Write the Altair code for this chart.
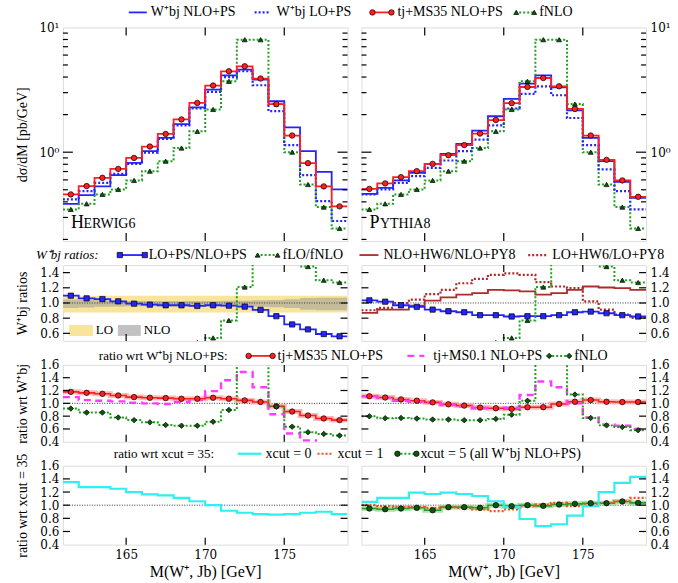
import altair as alt
import pandas as pd

# ---------------- data ----------------
bin_lo = [161, 162, 163, 164, 165, 166, 167, 168, 169, 170, 171, 172, 173, 174, 175, 176, 177, 178]
bin_end = 179
bin_mid = [161.5, 162.5, 163.5, 164.5, 165.5, 166.5, 167.5, 168.5, 169.5,
           170.5, 171.5, 172.5, 173.5, 174.5, 175.5, 176.5, 177.5, 178.5]
x_tick_vals = [165, 170, 175]

# top panels: dsigma/dM [pb/GeV]
hw_nlo = [0.386, 0.453, 0.532, 0.655, 0.821, 1.02, 1.30, 1.68, 2.29, 3.17, 4.13, 4.59, 3.82, 2.56, 1.58, 1.02, 0.696, 0.503]
hw_lo = [0.418, 0.488, 0.568, 0.670, 0.806, 0.99, 1.28, 1.64, 2.24, 3.04, 4.00, 4.45, 3.44, 2.13, 1.14, 0.655, 0.406, 0.281]
hw_tj = [0.459, 0.535, 0.623, 0.735, 0.900, 1.11, 1.40, 1.83, 2.48, 3.42, 4.45, 4.88, 3.89, 2.43, 1.36, 0.817, 0.532, 0.368]
py_nlo = [0.464, 0.518, 0.594, 0.683, 0.806, 0.969, 1.165, 1.49, 1.94, 2.67, 3.54, 4.13, 3.31, 2.16, 1.30, 0.847, 0.579, 0.431]
py_lo = [0.459, 0.503, 0.568, 0.643, 0.749, 0.858, 1.02, 1.26, 1.64, 2.24, 2.93, 3.37, 2.86, 1.88, 1.14, 0.727, 0.488, 0.348]
py_tj = [0.508, 0.562, 0.631, 0.705, 0.806, 0.946, 1.14, 1.41, 1.81, 2.47, 3.33, 3.93, 3.37, 2.22, 1.36, 0.868, 0.594, 0.439]
fnlo = [0.348, 0.386, 0.459, 0.503, 0.594, 0.705, 0.847, 1.08, 1.47, 2.20, 3.70, 7.97, 7.97, 2.43, 1.00, 0.551, 0.363, 0.245]

# W+bj ratios
hw_lo_nlo = [1.096, 1.061, 1.052, 1.022, 0.991, 0.978, 0.970, 0.970, 0.961, 0.970, 0.965, 0.952, 0.909, 0.826, 0.717, 0.652, 0.591, 0.561]
py_lo_nlo = [1.035, 1.017, 0.970, 0.948, 0.913, 0.891, 0.878, 0.839, 0.839, 0.822, 0.826, 0.826, 0.839, 0.878, 0.887, 0.865, 0.839, 0.822]
flo_fnlo = [0.30, 0.32, 0.34, 0.36, 0.38, 0.40, 0.42, 0.45, 0.48, 0.54, 0.77, 1.21, 1.90, 2.30, 1.80, 1.48, 1.30, 1.27]
hw_py_nlo = [0.870, 0.913, 0.913, 0.965, 1.030, 1.074, 1.109, 1.130, 1.174, 1.165, 1.152, 1.109, 1.130, 1.174, 1.217, 1.204, 1.196, 1.174]
hw_py_lo = [0.904, 0.935, 1.000, 1.043, 1.117, 1.174, 1.260, 1.317, 1.370, 1.390, 1.370, 1.274, 1.217, 1.196, 1.022, 0.913, 0.848, 0.804]
band_lo_lo = [0.875, 0.875, 0.875, 0.875, 0.875, 0.875, 0.875, 0.875, 0.875, 0.875, 0.875, 0.875, 0.875, 0.875, 0.875, 0.875, 0.875, 0.875]
band_lo_hi = [1.095, 1.095, 1.095, 1.095, 1.095, 1.095, 1.095, 1.095, 1.095, 1.095, 1.095, 1.095, 1.095, 1.095, 1.095, 1.095, 1.095, 1.095]
band_nlo_lo = [0.935, 0.94, 0.95, 0.955, 0.958, 0.958, 0.958, 0.958, 0.958, 0.958, 0.955, 0.955, 0.95, 0.945, 0.935, 0.91, 0.905, 0.905]
band_nlo_hi = [1.045, 1.04, 1.035, 1.03, 1.025, 1.025, 1.025, 1.025, 1.025, 1.025, 1.028, 1.03, 1.035, 1.04, 1.05, 1.065, 1.07, 1.07]

# ratio wrt W+bj NLO+PS
hw_tj_r = [1.179, 1.164, 1.149, 1.123, 1.097, 1.087, 1.082, 1.072, 1.072, 1.087, 1.072, 1.046, 1.021, 0.954, 0.872, 0.810, 0.764, 0.738]
hw_ms01_r = [1.097, 1.05, 1.04, 1.03, 1.01, 1.00, 0.99, 1.02, 1.05, 1.19, 1.36, 1.49, 1.25, 0.83, 0.53, 0.42, 0.36, 0.33]
hw_fnlo_r = [0.918, 0.856, 0.856, 0.779, 0.738, 0.703, 0.662, 0.651, 0.651, 0.713, 0.897, 1.75, 2.05, 0.949, 0.636, 0.549, 0.523, 0.497]
py_tj_r = [1.111, 1.091, 1.061, 1.041, 1.015, 0.985, 0.965, 0.934, 0.924, 0.914, 0.939, 0.939, 0.990, 1.025, 1.051, 1.025, 1.020, 1.020]
py_ms01_r = [1.11, 1.086, 1.04, 1.025, 1.01, 0.975, 0.95, 0.924, 0.914, 0.93, 1.13, 1.34, 1.25, 1.00, 0.78, 0.67, 0.65, 0.60]
py_fnlo_r = [0.797, 0.767, 0.772, 0.762, 0.747, 0.747, 0.737, 0.737, 0.757, 0.823, 1.04, 1.95, 2.30, 1.137, 0.772, 0.656, 0.630, 0.580]

# ratio wrt x_cut = 35
hw_xc0 = [1.35, 1.275, 1.275, 1.25, 1.20, 1.165, 1.15, 1.11, 1.06, 1.00, 0.915, 0.885, 0.865, 0.855, 0.865, 0.885, 0.90, 0.865]
py_xc0 = [1.05, 1.11, 1.11, 1.19, 1.17, 1.19, 1.17, 1.14, 1.06, 0.97, 0.79, 0.68, 0.71, 0.84, 0.985, 1.20, 1.34, 1.43]
py_xc1 = [1.005, 0.985, 0.975, 0.97, 0.96, 0.97, 0.96, 0.934, 0.909, 0.934, 0.985, 1.01, 1.035, 0.985, 1.01, 1.035, 1.06, 1.11]
py_xc5 = [0.949, 0.939, 0.949, 0.96, 0.924, 0.97, 0.97, 0.96, 1.00, 0.985, 1.00, 0.99, 1.01, 1.02, 1.03, 1.03, 1.056, 1.035]

log_minor = [0.2, 0.3, 0.4, 0.5, 0.6, 0.7, 0.8, 0.9, 2, 3, 4, 5, 6, 7, 8, 9]
log_major = [1]
r1_ticks = [0.6, 0.8, 1.0, 1.2, 1.4]
r2_ticks = [0.6, 0.8, 1.0, 1.2, 1.4]
r_labels = [0.4, 0.6, 0.8, 1.0, 1.2, 1.4, 1.6]

# ---------------- styling ----------------
W = 285
H_TOP, H_R1, H_R2, H_R3 = 214, 76, 77, 79
SERIF = 'Liberation Serif'
NUMF = 'DejaVu Serif'
BLUE = '#2424ff'
RED = '#ff1f1f'
GREEN_L = '#22a022'
GREEN_M = '#0b5a0b'
DARKRED = '#b02a2a'
MAGENTA = '#ff3cff'
CYAN = '#2ef0f0'
ORED = '#ff4a1a'

XS = alt.Scale(domain=[161, 179], nice=False, zero=False)
YS_TOP = alt.Scale(type='log', domain=[0.194, 10], nice=False)
YS_R1 = alt.Scale(domain=[0.5, 1.5], nice=False, zero=False)
YS_R2 = alt.Scale(domain=[0.4, 1.6], nice=False, zero=False)

DUMMY = pd.DataFrame({'k': [0]})


class P:
    """panel context: scales and axes shared by every layer of one panel"""
    def __init__(self, ys, H, xa, ya):
        self.ys, self.H, self.xa, self.ya = ys, H, xa, ya

    def X(self, f):
        return alt.X(f, scale=XS, axis=self.xa)

    def Y(self, f):
        return alt.Y(f, scale=self.ys, axis=self.ya)


def steps_df(vals):
    return pd.DataFrame({'x': bin_lo + [bin_end], 'y': list(vals) + [vals[-1]]})


def step_line(p, vals, color, width=1.6, dash=None, opacity=1.0):
    kw = dict(interpolate='step-after', color=color, strokeWidth=width, clip=True, opacity=opacity)
    if dash:
        kw['strokeDash'] = dash
    return alt.Chart(steps_df(vals)).mark_line(**kw).encode(x=p.X('x:Q'), y=p.Y('y:Q'))


def points(p, vals, shape, fill, size=28):
    df = pd.DataFrame({'x': bin_mid, 'y': vals})
    return alt.Chart(df).mark_point(shape=shape, filled=True, fill=fill, stroke='black',
                                    strokeWidth=0.7, size=size, opacity=1, clip=True).encode(
        x=p.X('x:Q'), y=p.Y('y:Q'))


def band(p, lo, hi, color, opacity):
    df = pd.DataFrame({'x': bin_lo + [bin_end], 'y': list(lo) + [lo[-1]], 'hi': list(hi) + [hi[-1]]})
    return alt.Chart(df).mark_area(interpolate='step-after', color=color, opacity=opacity, clip=True).encode(
        x=p.X('x:Q'), y=p.Y('y:Q'), y2='hi:Q')


def one_line(p):
    return alt.Chart(pd.DataFrame({'y': [1.0]})).mark_rule(color='#333333', strokeDash=[1, 1.5], strokeWidth=1).encode(
        y=p.Y('y:Q'))


def yticks(p, vals, length):
    df = pd.DataFrame({'y': vals})
    out = []
    for x1, x2 in ((0, length), (W - length, W)):
        out.append(alt.Chart(df).mark_rule(color='black', strokeWidth=1.2).encode(
            y=p.Y('y:Q'), x=alt.value(x1), x2=alt.value(x2)))
    return out


def xticks(p, length=7):
    df = pd.DataFrame({'x': x_tick_vals})
    return [alt.Chart(df).mark_rule(color='black', strokeWidth=1.2).encode(
                x=p.X('x:Q'), y=alt.value(0), y2=alt.value(length)),
            alt.Chart(df).mark_rule(color='black', strokeWidth=1.2).encode(
                x=p.X('x:Q'), y=alt.value(p.H - length), y2=alt.value(p.H))]


def ltext(x, y, s, size=14, style='normal'):
    return alt.Chart(DUMMY).mark_text(text=s, align='left', baseline='middle', font=SERIF,
                                      fontSize=size, fontStyle=style, color='black').encode(
        x=alt.value(x), y=alt.value(y))


def lline(x1, x2, y, color, width=1.6, dash=None):
    kw = dict(color=color, strokeWidth=width)
    if dash:
        kw['strokeDash'] = dash
    return alt.Chart(DUMMY).mark_rule(**kw).encode(x=alt.value(x1), x2=alt.value(x2), y=alt.value(y))


def lpoint(x, y, shape, fill, size=28):
    return alt.Chart(DUMMY).mark_point(shape=shape, filled=True, fill=fill, stroke='black',
                                       strokeWidth=0.7, size=size, opacity=1).encode(
        x=alt.value(x), y=alt.value(y))


def lrect(x1, x2, y1, y2, color, opacity=1.0):
    return alt.Chart(DUMMY).mark_rect(color=color, opacity=opacity).encode(
        x=alt.value(x1), x2=alt.value(x2), y=alt.value(y1), y2=alt.value(y2))


AX_COMMON = dict(ticks=False, domain=False, grid=False, labelFont=NUMF, labelFontSize=12,
                 labelColor='black', labelPadding=4, minExtent=29, maxExtent=29)


def yaxis(orient, values, title=None, fmt=None, expr=None):
    kw = dict(AX_COMMON)
    kw.update(orient=orient, values=values)
    if fmt:
        kw['format'] = fmt
    if expr:
        kw['labelExpr'] = expr
    if title:
        kw.update(title=title, titleFont=SERIF, titleFontSize=14, titleFontWeight='normal',
                  titleColor='black', titlePadding=4)
    else:
        kw['title'] = None
    return alt.Axis(**kw)


XAXIS_BOTTOM = alt.Axis(orient='bottom', values=x_tick_vals, format='d', ticks=False, domain=False,
                        grid=False, labelFont=NUMF, labelFontSize=12, labelColor='black', labelPadding=5,
                        title='M(W⁺, Jb) [GeV]', titleFont=SERIF, titleFontSize=16,
                        titleFontWeight='normal', titleColor='black', titlePadding=3)

LOG_EXPR = "datum.value == 1 ? '10⁰' : '10¹'"

# ---------------- top panels ----------------
def top_panel(nlo, lo, tj, side, name_big, name_small, legend=False):
    ax = yaxis(side, [1, 10], title='dσ/dM [pb/GeV]' if side == 'left' else None, expr=LOG_EXPR)
    p = P(YS_TOP, H_TOP, None, ax)
    layers = [
        step_line(p, nlo, BLUE, width=1.8),
        step_line(p, fnlo, GREEN_L, width=2.0, dash=[2, 2]),
        step_line(p, lo, BLUE, width=2.2, dash=[2, 2]),
        step_line(p, tj, RED, width=1.8),
        points(p, fnlo, 'triangle-up', GREEN_M, size=24),
        points(p, tj, 'circle', RED, size=30),
    ]
    layers += yticks(p, log_minor, 5) + yticks(p, log_major, 10) + xticks(p, 8)
    layers += [ltext(8, 196, name_big, size=18), ltext(8 + name_small[1], 197, name_small[0], size=14)]
    if legend:
        y = -15
        layers += [
            lline(128 - 62, 146 - 62, y, BLUE, 1.8), ltext(150 - 62, y, 'W⁺bj NLO+PS'),
            lline(254 - 62, 270 - 62, y, BLUE, 2.2, [2, 2]), ltext(276 - 62, y, 'W⁺bj LO+PS'),
            lline(370 - 62, 393 - 62, y, RED, 1.8), lpoint(372 - 62, y, 'circle', RED, 30),
            lpoint(391 - 62, y, 'circle', RED, 30), ltext(397 - 62, y, 'tj+MS35 NLO+PS'),
            lline(515 - 62, 535 - 62, y, GREEN_L, 2.0, [2, 2]), lpoint(516 - 62, y, 'triangle-up', GREEN_M, 24),
            lpoint(534 - 62, y, 'triangle-up', GREEN_M, 24), ltext(539 - 62, y, 'fNLO'),
        ]
    return alt.layer(*layers).properties(width=W, height=H_TOP)


top_left = top_panel(hw_nlo, hw_lo, hw_tj, 'left', 'H', ('ERWIG6', 12.5), legend=True)
top_right = top_panel(py_nlo, py_lo, py_tj, 'right', 'P', ('YTHIA8', 10.5))

# ---------------- ratio 1 ----------------
p = P(YS_R1, H_R1, None, yaxis('left', r1_ticks, 'W⁺bj ratios', '.1f'))
r1_left_layers = [
    band(p, band_lo_lo, band_lo_hi, '#f8e49a', 1.0),
    band(p, band_nlo_lo, band_nlo_hi, '#9a9a9a', 0.55),
    one_line(p),
    step_line(p, hw_lo_nlo, BLUE, width=1.8),
    step_line(p, flo_fnlo, GREEN_L, width=2.0, dash=[2, 2]),
    points(p, flo_fnlo, 'triangle-up', GREEN_M, 24),
    points(p, hw_lo_nlo, 'square', BLUE, 28),
    lrect(6, 30, 60, 71, '#f8e49a'), ltext(33, 65.5, 'LO', 13),
    lrect(55, 78, 60, 71, '#9a9a9a', 0.6), ltext(81, 65.5, 'NLO', 13),
]
r1_left_layers += yticks(p, r1_ticks, 7) + xticks(p, 7)
y = -10
r1_left_layers += [
    ltext(35 - 62, y, 'W⁺bj ratios:', 13, 'italic'),
    lline(117 - 62, 146 - 62, y, BLUE, 1.8), lpoint(119 - 62, y, 'square', BLUE, 28),
    lpoint(144 - 62, y, 'square', BLUE, 28), ltext(148 - 62, y, 'LO+PS/NLO+PS'),
    lline(256 - 62, 278 - 62, y, GREEN_L, 2.0, [2, 2]), lpoint(257 - 62, y, 'triangle-up', GREEN_M, 24),
    lpoint(277 - 62, y, 'triangle-up', GREEN_M, 24), ltext(282 - 62, y, 'fLO/fNLO'),
    lline(359 - 62, 378 - 62, y, DARKRED, 1.8), ltext(383 - 62, y, 'NLO+HW6/NLO+PY8'),
    lline(528 - 62, 548 - 62, y, DARKRED, 2.2, [2, 2]), ltext(552 - 62, y, 'LO+HW6/LO+PY8'),
]
r1_left = alt.layer(*r1_left_layers).properties(width=W, height=H_R1)

p = P(YS_R1, H_R1, None, yaxis('right', r1_ticks, fmt='.1f'))
r1_right_layers = [
    one_line(p),
    step_line(p, hw_py_nlo, DARKRED, width=1.8),
    step_line(p, hw_py_lo, DARKRED, width=2.2, dash=[2, 2]),
    step_line(p, py_lo_nlo, BLUE, width=1.8),
    step_line(p, flo_fnlo, GREEN_L, width=2.0, dash=[2, 2]),
    points(p, flo_fnlo, 'triangle-up', GREEN_M, 24),
    points(p, py_lo_nlo, 'square', BLUE, 28),
]
r1_right_layers += yticks(p, r1_ticks, 7) + xticks(p, 7)
r1_right = alt.layer(*r1_right_layers).properties(width=W, height=H_R1)

# ---------------- ratio 2 ----------------
def r2_panel(tj, ms01, fr, side, legend=False):
    p = P(YS_R2, H_R2, None, yaxis(side, r_labels, 'ratio wrt W⁺bj' if side == 'left' else None, '.1f'))
    layers = [
        one_line(p),
        step_line(p, tj, '#ffa8a8', width=5, opacity=0.8),
        step_line(p, tj, RED, width=1.6),
        step_line(p, ms01, MAGENTA, width=2.4, dash=[7, 5]),
        step_line(p, fr, GREEN_L, width=2.0, dash=[2, 2]),
        points(p, tj, 'circle', RED, 30),
        points(p, fr, 'diamond', GREEN_M, 30),
    ]
    layers += yticks(p, r2_ticks, 7) + xticks(p, 7)
    if legend:
        y = -9
        layers += [
            ltext(98 - 62, y, 'ratio wrt W⁺bj NLO+PS:', 13),
            lline(246 - 62, 274 - 62, y, RED, 1.8), lpoint(248 - 62, y, 'circle', RED, 30),
            lpoint(272 - 62, y, 'circle', RED, 30), ltext(277 - 62, y, 'tj+MS35 NLO+PS'),
            lline(407 - 62, 424 - 62, y, MAGENTA, 2.4, [7, 5]), ltext(433 - 62, y, 'tj+MS0.1 NLO+PS'),
            lline(548 - 62, 570 - 62, y, GREEN_L, 2.0, [2, 2]), lpoint(549 - 62, y, 'diamond', GREEN_M, 30),
            lpoint(569 - 62, y, 'diamond', GREEN_M, 30), ltext(574 - 62, y, 'fNLO'),
        ]
    return alt.layer(*layers).properties(width=W, height=H_R2)


r2_left = r2_panel(hw_tj_r, hw_ms01_r, hw_fnlo_r, 'left', legend=True)
r2_right = r2_panel(py_tj_r, py_ms01_r, py_fnlo_r, 'right')

# ---------------- ratio 3 ----------------
p = P(YS_R2, H_R3, XAXIS_BOTTOM, yaxis('left', r_labels, 'ratio wrt xcut = 35', '.1f'))
r3_left_layers = [
    one_line(p),
    step_line(p, hw_xc0, CYAN, width=2.2),
]
r3_left_layers += yticks(p, r2_ticks, 7) + xticks(p, 7)
y = -12
r3_left_layers += [
    ltext(113 - 62, y, 'ratio wrt xcut = 35:', 13),
    lline(237 - 62, 261 - 62, y, CYAN, 2.2), ltext(265 - 62, y, 'xcut = 0'),
    lline(317 - 62, 333 - 62, y, ORED, 2.2, [2, 2]), ltext(337 - 62, y, 'xcut = 1'),
    lline(396 - 62, 417 - 62, y, GREEN_L, 2.0, [2, 2]), lpoint(397 - 62, y, 'circle', GREEN_M, 30),
    lpoint(416 - 62, y, 'circle', GREEN_M, 30), ltext(420 - 62, y, 'xcut = 5 (all W⁺bj NLO+PS)'),
]
r3_left = alt.layer(*r3_left_layers).properties(width=W, height=H_R3)

p = P(YS_R2, H_R3, XAXIS_BOTTOM, yaxis('right', r_labels, fmt='.1f'))
r3_right_layers = [
    one_line(p),
    step_line(p, py_xc5, '#9ad89a', width=5, opacity=0.8),
    step_line(p, py_xc5, GREEN_L, width=1.6),
    step_line(p, py_xc1, ORED, width=2.2, dash=[2, 2]),
    step_line(p, py_xc0, CYAN, width=2.2),
    points(p, py_xc5, 'circle', GREEN_M, 30),
]
r3_right_layers += yticks(p, r2_ticks, 7) + xticks(p, 7)
r3_right = alt.layer(*r3_right_layers).properties(width=W, height=H_R3)

# ---------------- assemble ----------------
chart = alt.concat(
    top_left, top_right, r1_left, r1_right, r2_left, r2_right, r3_left, r3_right,
    columns=2, spacing={'row': 24, 'column': 14}, bounds='flush'
).properties(
    padding={'left': 15, 'top': 4, 'right': 2, 'bottom': 2}
).configure_view(stroke='black', strokeWidth=1.2).configure(background='white')

chart.save("out.html", embed_options={"renderer": "svg", "actions": False})
